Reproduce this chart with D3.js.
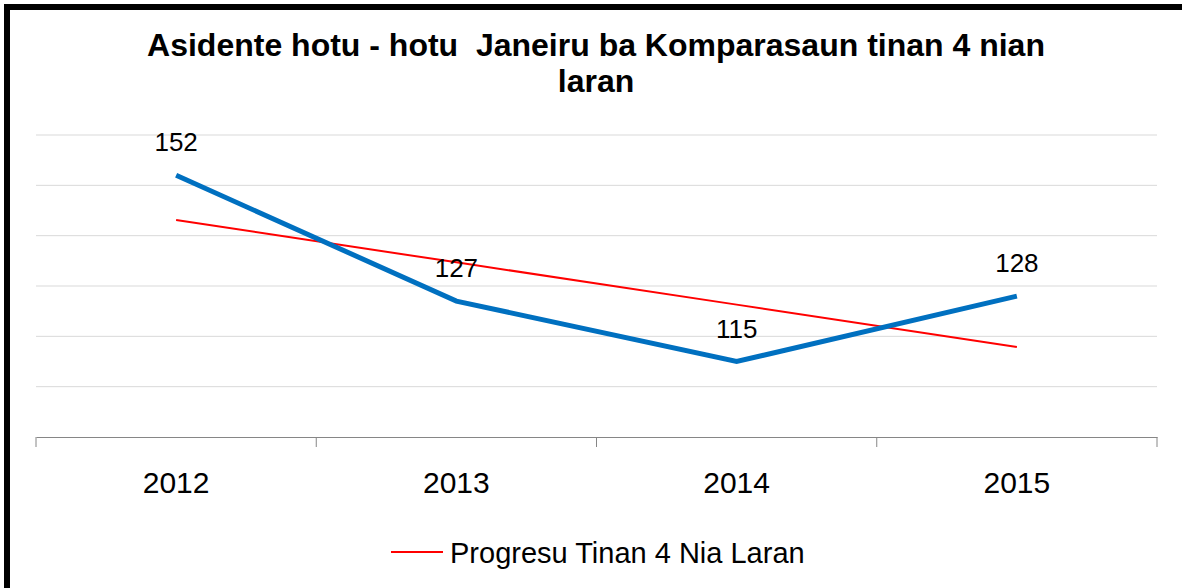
<!DOCTYPE html>
<html>
<head>
<meta charset="utf-8">
<script src="https://cdn.jsdelivr.net/npm/d3@7"></script>
<style>
  body { margin: 0; background: #fff; }
  text { font-family: "Liberation Sans", Arial, sans-serif; fill: #000; }
</style>
</head>
<body>
<div id="chart"></div>
<script>
var years = ['2012', '2013', '2014', '2015']
var asidente = [152, 127, 115, 128]
// red trend line
var progresu = [143.1, 134.7, 126.3, 117.9]
var yTicks = [100, 110, 120, 130, 140, 150, 160]
var titleLines = ['Asidente hotu - hotu  Janeiru ba Komparasaun tinan 4 nian', 'laran']
var legendLabel = 'Progresu Tinan 4 Nia Laran'

const W = 1182, H = 588
const margin = {top: 135, right: 25, bottom: 151, left: 36},
    width = W - margin.left - margin.right,
    height = H - margin.top - margin.bottom

var svg = d3.select('#chart').append('svg')
    .attr('width', W)
    .attr('height', H)

// black frame (left + top only visible)
svg.append('rect')
    .attr('x', 7).attr('y', 7)
    .attr('width', W + 20).attr('height', H + 20)
    .attr('fill', 'none')
    .attr('stroke', '#000')
    .attr('stroke-width', 6)

// title
svg.append('text')
    .attr('text-anchor', 'middle')
    .attr('font-weight', 'bold')
    .attr('font-size', 32)
    .style('white-space', 'pre')
    .selectAll('tspan')
    .data(titleLines)
    .enter().append('tspan')
    .attr('x', 596)
    .attr('y', (d, i) => 56 + i * 36)
    .text(d => d)

var g = svg.append('g')
    .attr('transform', 'translate(' + margin.left + ',' + margin.top + ')')

var x = d3.scaleBand()
    .domain(years)
    .range([0, width])

var y = d3.scaleLinear()
    .domain([100, 160])
    .range([height, 0])

// gridlines
g.selectAll('.grid')
    .data(yTicks.slice(1))
    .enter().append('line')
    .attr('class', 'grid')
    .attr('x1', 0).attr('x2', width)
    .attr('y1', d => y(d)).attr('y2', d => y(d))
    .attr('stroke', '#d9d9d9')
    .attr('stroke-width', 1)

// x axis
var xAxis = d3.axisBottom(x).tickSize(0).tickPadding(35)
var ax = g.append('g')
    .attr('transform', 'translate(0,' + height + ')')
    .call(xAxis)
ax.select('.domain').attr('stroke', '#868686')
ax.selectAll('text').attr('font-size', 30).attr('font-family', '"Liberation Sans", Arial, sans-serif')

// category boundary ticks
var bounds = years.map(d => x(d)).concat([width])
g.selectAll('.btick')
    .data(bounds)
    .enter().append('line')
    .attr('x1', d => d).attr('x2', d => d)
    .attr('y1', height).attr('y2', height + 10)
    .attr('stroke', '#868686')

var cx = d => x(d) + x.bandwidth() / 2

// trend line
g.append('path')
    .datum(progresu)
    .attr('fill', 'none')
    .attr('stroke', '#ff0000')
    .attr('stroke-width', 2)
    .attr('d', d3.line().x((d, i) => cx(years[i])).y(d => y(d)))

// main series
g.append('path')
    .datum(asidente)
    .attr('fill', 'none')
    .attr('stroke', '#0070c0')
    .attr('stroke-width', 5)
    .attr('d', d3.line().x((d, i) => cx(years[i])).y(d => y(d)))

// value labels
g.selectAll('.lbl')
    .data(asidente)
    .enter().append('text')
    .attr('class', 'lbl')
    .attr('x', (d, i) => cx(years[i]))
    .attr('y', d => y(d) - 24)
    .attr('text-anchor', 'middle')
    .attr('font-size', 26)
    .text(d => d)

// legend
var leg = svg.append('g')
leg.append('line')
    .attr('x1', 391).attr('x2', 443)
    .attr('y1', 552).attr('y2', 552)
    .attr('stroke', '#ff0000')
    .attr('stroke-width', 2)
leg.append('text')
    .attr('x', 450).attr('y', 563)
    .attr('font-size', 29)
    .text(legendLabel)
</script>
</body>
</html>
